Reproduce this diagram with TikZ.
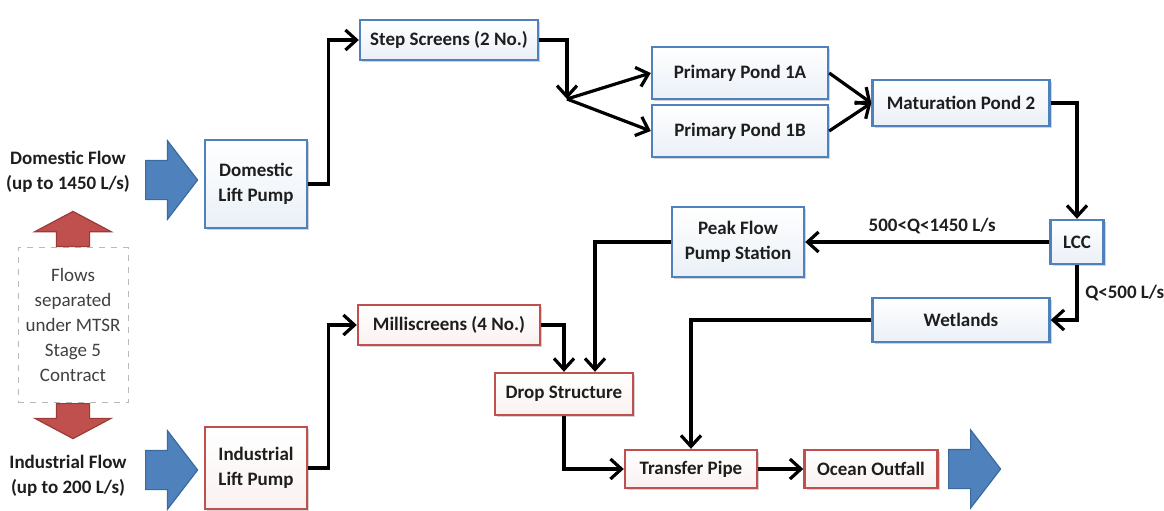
\documentclass[tikz,border=0pt]{standalone}
\usepackage{fontspec}
\setmainfont{Carlito}
\usetikzlibrary{arrows.meta,shadows,shapes.arrows}

\definecolor{boxblue}{HTML}{4F81BD}
\definecolor{boxred}{HTML}{C0504D}
\definecolor{arrblueline}{HTML}{3A6A9E}
\definecolor{arrredline}{HTML}{9A3B38}
\definecolor{txt}{HTML}{1E1E1E}
\definecolor{notegray}{HTML}{404040}

\newcommand{\diagfont}{\fontsize{9.5}{12.5}\selectfont}

\tikzstyle{unit} = [rectangle, line width=1.2pt, top color=white, inner sep=0pt,
    drop shadow={shadow xshift=1.2pt, shadow yshift=-1.2pt, opacity=0.35},
    align=center, font=\diagfont\bfseries, text=txt]
\tikzstyle{bluebox} = [unit, draw=boxblue, bottom color=boxblue!12]
\tikzstyle{redbox} = [unit, draw=boxred, bottom color=boxred!8]
\tikzstyle{pipe} = [line width=1.6pt, -{Straight Barb[length=5.5pt,width=10pt,line width=1.6pt]}]
\tikzstyle{flowlabel} = [font=\diagfont\bfseries, text=txt, align=center]
\tikzstyle{bigarrow} = [single arrow, inner xsep=0pt, line width=0.6pt,
    single arrow head indent=0pt]
\tikzstyle{inflow} = [bigarrow, fill=boxblue, draw=arrblueline, minimum height=26pt,
    inner ysep=9.5pt, single arrow head extend=9.75pt, single arrow tip angle=105]
\tikzstyle{splitarrow} = [bigarrow, fill=boxred, draw=arrredline, minimum height=17.5pt,
    inner xsep=8pt, inner ysep=0pt, single arrow head extend=10.75pt, single arrow tip angle=124]

\begin{document}
\begin{tikzpicture}[x=0.5pt, y=-0.5pt]
\useasboundingbox (0,0) rectangle (1164,510);

%------------ Inflows ---------------------
\node[flowlabel] (domflow) at (68,172) {Domestic Flow\\(up to 1450 L/s)};
\node[flowlabel] (indflow) at (68,476) {Industrial Flow\\(up to 200 L/s)};
\node[inflow, anchor=tail] (domarrow) at (145,180) {};
\node[inflow, anchor=tail] (indarrow) at (145,470) {};

\node[draw=gray!55, dashed, line width=0.5pt, minimum width=55pt, minimum height=77.5pt,
    align=center, font=\diagfont, text=notegray] (note) at (73,325)
    {Flows\\separated\\under MTSR\\Stage 5\\Contract};
\node[splitarrow, anchor=tail, shape border rotate=90] (uparrow) at (note.north) {};
\node[splitarrow, anchor=tail, shape border rotate=270] (downarrow) at (note.south) {};

%------------ Domestic stream ---------------------
\node[bluebox, minimum width=51pt, minimum height=44pt] (dlift) at (256,184) {Domestic\\Lift Pump};
\node[bluebox, minimum width=89pt, minimum height=20pt] (step) at (449,40) {Step Screens (2 No.)};
\node[bluebox, minimum width=88pt, minimum height=26pt] (pond1a) at (740,73) {Primary Pond 1A};
\node[bluebox, minimum width=88pt, minimum height=26pt] (pond1b) at (740,131) {Primary Pond 1B};
\node[bluebox, minimum width=88.5pt, minimum height=23pt] (mat) at (961,103) {Maturation Pond 2};
\node[bluebox, minimum width=26.5pt, minimum height=22pt] (lcc) at (1077,242) {LCC};
\node[bluebox, minimum width=66pt, minimum height=35pt] (peak) at (738,242) {Peak Flow\\Pump Station};
\node[bluebox, minimum width=88.5pt, minimum height=22pt] (wet) at (961,320) {Wetlands};
\coordinate (split) at (567,99);

%------------ Industrial stream ---------------------
\node[redbox, minimum width=51pt, minimum height=41pt] (ilift) at (256,468) {Industrial\\Lift Pump};
\node[redbox, minimum width=91pt, minimum height=20pt] (milli) at (449,325) {Milliscreens (4 No.)};
\node[redbox, minimum width=69pt, minimum height=21pt] (drop) at (564,394) {Drop Structure};
\node[redbox, minimum width=66pt, minimum height=19pt] (transfer) at (691,469) {Transfer Pipe};
\node[redbox, minimum width=66.5pt, minimum height=19pt] (ocean) at (871,469) {Ocean Outfall};
\node[inflow, anchor=tail] (outarrow) at (948,469) {};

%------------ Connectors ---------------------
\draw[pipe] (dlift.east) -- ++(20,0) |- (step.west);
\draw[pipe] (step.east) -| (split);
\draw[pipe] (split) -- (pond1a.west);
\draw[pipe] (split) -- (pond1b.west);
\draw[pipe] (pond1a.east) -- (mat.west);
\draw[pipe] (pond1b.east) -- (mat.west);
\draw[pipe] (mat.east) -| (lcc.north);
\draw[pipe] (lcc.west) -- node[flowlabel, above, pos=0.48] {500<Q<1450 L/s} (peak.east);
\draw[pipe] (lcc.south) |- node[flowlabel, right, pos=0.25] {Q<500 L/s} (wet.east);
\draw[pipe] (peak.west) -| ([xshift=15.5pt]drop.north);
\draw[pipe] (wet.west) -| (transfer.north);
\draw[pipe] (ilift.east) -- ++(20,0) |- (milli.west);
\draw[pipe] (milli.east) -| (drop.north);
\draw[pipe] (drop.south) |- (transfer.west);
\draw[pipe] (transfer.east) -- (ocean.west);
\end{tikzpicture}
\end{document}
